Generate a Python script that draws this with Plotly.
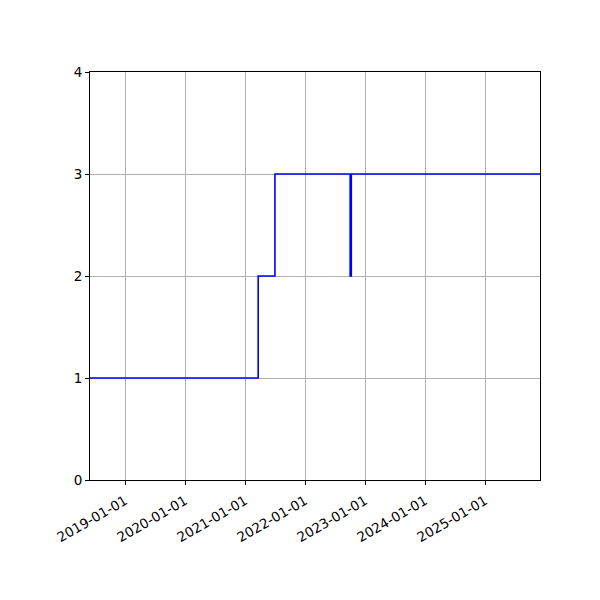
import plotly.graph_objects as go

# step data (value holds until next date)
dates = ["2018-06-01", "2021-03-21", "2021-07-01", "2022-10-02", "2022-10-09", "2025-12-01"]
values = [1, 2, 3, 2, 3, 3]

x_range = ["2018-06-01", "2025-12-01"]
y_ticks = [0, 1, 2, 3, 4]

trace = go.Scatter(x=dates, y=values, mode="lines", line_shape="hv",
    line=dict(color="blue", width=1.6), showlegend=False)

fig = go.Figure(data=[trace])
axis_common = dict(showline=True, linecolor="black", linewidth=1, mirror=True,
    ticks="outside", ticklen=4, tickcolor="black", automargin=False,
    showgrid=True, gridcolor="#b0b0b0", gridwidth=0.8, zeroline=False)
# page body adds an 8px offset, so margins are shifted to compensate
fig.update_layout(
    width=600, height=600,
    margin=dict(l=82, r=68, t=64, b=128),
    paper_bgcolor="white", plot_bgcolor="white",
    font=dict(family="DejaVu Sans", size=13.5, color="black"),
    xaxis=dict(range=x_range, tick0="2019-01-01", dtick="M12", tickformat="%Y-%m-%d",
        tickangle=-30, ticklabelstandoff=3, **axis_common),
    yaxis=dict(range=[0, 4], tickvals=y_ticks, **axis_common),
)
fig.write_html("out.html")
